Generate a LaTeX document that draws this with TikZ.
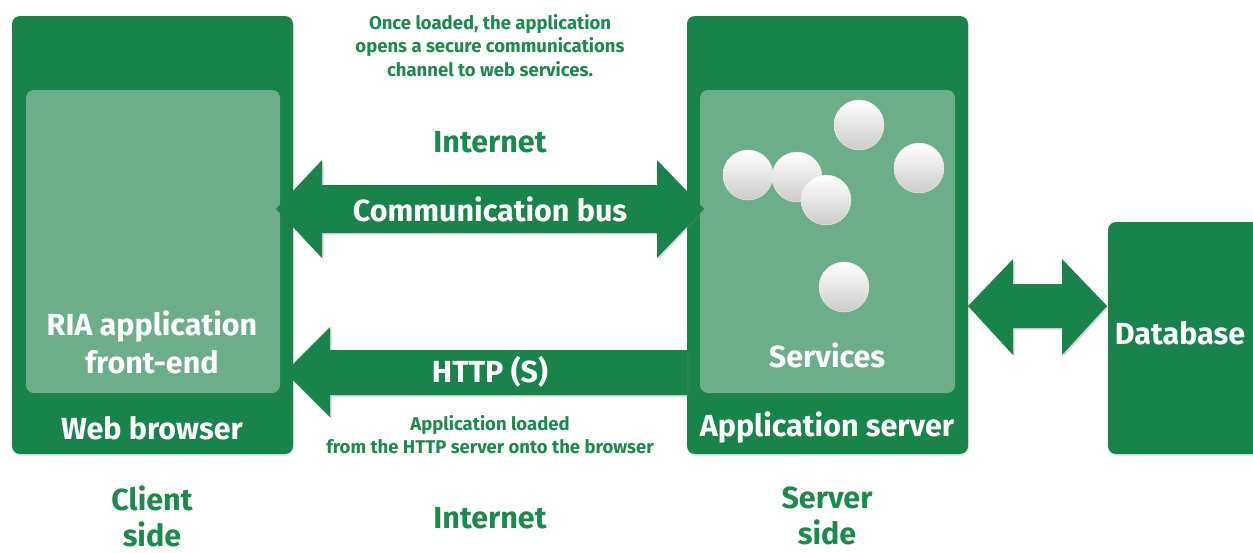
\documentclass[tikz,border=0pt]{standalone}
\usepackage{fontspec}
\setmainfont{Fira Sans}
\usetikzlibrary{shadows}
\definecolor{boxgreen}{HTML}{18834A}
\definecolor{innergreen}{HTML}{6DAE8A}
\definecolor{textgreen}{HTML}{1B8A4D}
\tikzset{
  outerbox/.style={fill=boxgreen,rounded corners=8pt,
    drop shadow={opacity=0.2,shadow xshift=1pt,shadow yshift=-2pt}},
  innerbox/.style={fill=innergreen,rounded corners=8pt},
  fatarrow/.style={fill=boxgreen,
    drop shadow={opacity=0.3,shadow xshift=1.5pt,shadow yshift=-1.5pt}},
  whitelabel/.style={text=white,font=\fontsize{30.5}{38}\selectfont\bfseries,align=center},
  greenlabel/.style={text=textgreen,font=\fontsize{30.5}{36}\selectfont\bfseries,align=center},
  smalllabel/.style={text=textgreen,font=\fontsize{18.5}{23.5}\selectfont\bfseries,align=center},
  ball/.style={circle,minimum size=50pt,inner sep=0pt,top color=white,bottom color=black!20,draw=black!8}
}
\begin{document}
\begin{tikzpicture}[x=1pt,y=-1pt]
\useasboundingbox (0,0) rectangle (1253,552);

\node (browser) at (152.5,235) [outerbox,minimum width=281pt,minimum height=438pt] {};
\node (server) at (827.5,235) [outerbox,minimum width=281pt,minimum height=438pt] {};
\node (database) at (1185,338) [outerbox,minimum width=154pt,minimum height=232pt] {};

\node (frontend) at (153,241.5) [innerbox,minimum width=254pt,minimum height=303pt] {};
\node (services) at (827.5,241.5) [innerbox,minimum width=255pt,minimum height=303pt] {};

\foreach \x/\y [count=\i] in {748/175,797/177,826/200,859/125,919/168,844/287}
  \node (svc\i) at (\x,\y) [ball] {};

\coordinate (busL) at (276,209);
\coordinate (busR) at (704,209);
\fill[fatarrow] (busL) -- ++(46,-49) -- ++(0,25) -- ++(335,0) -- ++(0,-25) -- (busR)
  -- ++(-47,49) -- ++(0,-25) -- ++(-335,0) -- ++(0,25) -- cycle;

\coordinate (httpTip) at (285,372);
\fill[fatarrow] (httpTip) -- ++(45,-45) -- ++(0,23) -- ++(357,0) -- ++(0,45)
  -- ++(-357,0) -- ++(0,22) -- cycle;

\coordinate (dbL) at (968,306);
\coordinate (dbR) at (1107,306);
\fill[fatarrow] (dbL) -- ++(45,-47) -- ++(0,25) -- ++(49,0) -- ++(0,-25) -- (dbR)
  -- ++(-45,49) -- ++(0,-27) -- ++(-49,0) -- ++(0,27) -- cycle;

\node (note) at (490,45.5) [smalllabel] {Once loaded, the application\\opens a secure communications\\channel to web services.};
\node (net1) at (490,142) [greenlabel] {Internet};
\node (bus) at (490,209) [whitelabel] {Communication bus};
\node (ria) at (152,342) [whitelabel] {RIA application\\front-end};
\node (webb) at (152,428) [whitelabel] {Web browser};
\node (http) at (490,372) [whitelabel] {HTTP (S)};
\node (loaded) at (490,434.5) [smalllabel] {Application loaded\\from the HTTP server onto the browser};
\node (svc) at (827,355) [whitelabel] {Services};
\node (appsrv) at (827,428) [whitelabel] {Application server};
\node (db) at (1180,333) [whitelabel] {Database};
\node (client) at (152,516) [greenlabel,inner sep=1pt] {Client\\side};
\node (net2) at (490,518) [greenlabel] {Internet};
\node (srvside) at (827,516) [greenlabel,inner sep=1pt] {Server\\side};

\end{tikzpicture}
\end{document}
